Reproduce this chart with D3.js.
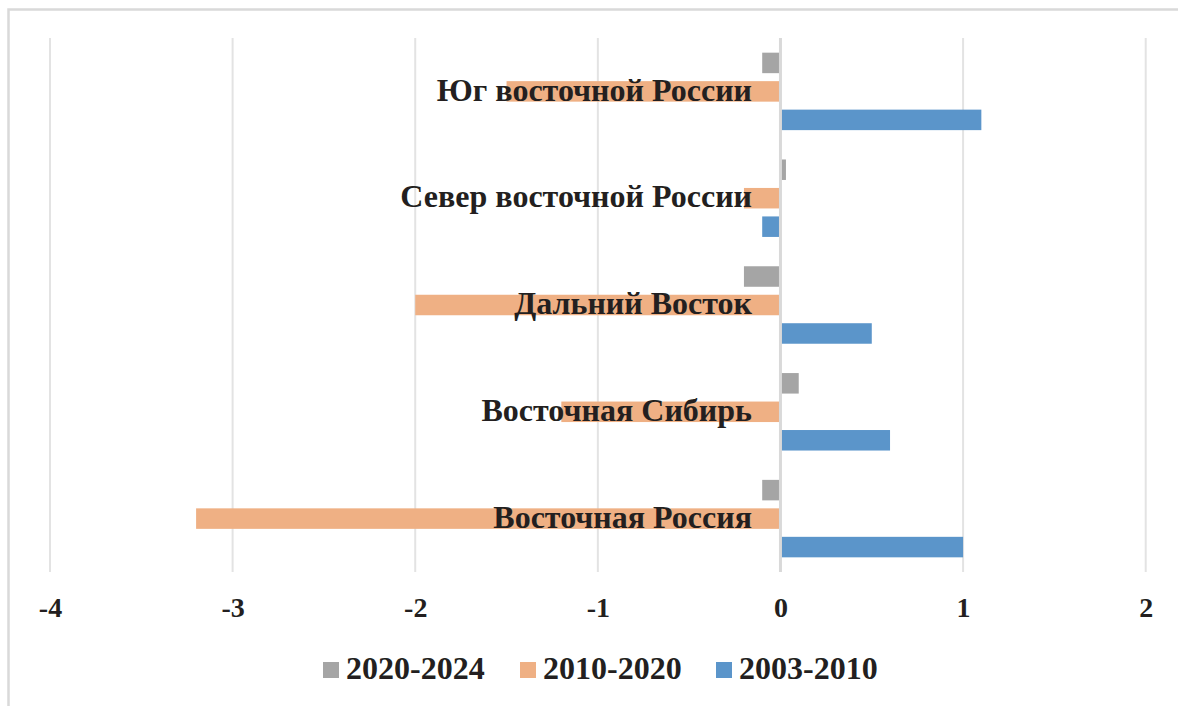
<!DOCTYPE html>
<html><head><meta charset="utf-8">
<script src="https://cdn.jsdelivr.net/npm/d3@7"></script>
<style>body{margin:0;background:#fff}svg{display:block}text{font-family:"Liberation Serif","Times New Roman",serif;font-weight:bold;fill:#231f20}</style>
</head><body><svg id="c" width="1178" height="706"></svg>
<script>
const categories = ["Юг восточной России","Север восточной России","Дальний Восток","Восточная Сибирь","Восточная Россия"];
const seriesNames = ["2020-2024","2010-2020","2003-2010"];
const v2020_2024 = [-0.1, 0.03, -0.2, 0.1, -0.1];
const v2010_2020 = [-1.5, -0.2, -2.0, -1.2, -3.2];
const v2003_2010 = [1.1, -0.1, 0.5, 0.6, 1.0];
const tickValues = [-4,-3,-2,-1,0,1,2];
const colors = ["#a5a5a5","#efb084","#5b95ca"];
const seriesValues = [v2020_2024, v2010_2020, v2003_2010];

const svg = d3.select("#c");
svg.append("rect").attr("x",8.5).attr("y",9.5).attr("width",1300).attr("height",900)
  .attr("fill","none").attr("stroke","#d9d9d9").attr("stroke-width",2.5);

const x = d3.scaleLinear().domain([-4,2]).range([50,1145.7]);
const y = d3.scaleBand().domain(categories).range([38,572]).paddingInner(0.2).paddingOuter(0.1);
const yi = d3.scaleBand().domain(seriesNames).range([0,y.bandwidth()]).paddingInner(0.28).paddingOuter(0.14);

// gridlines
svg.append("g").selectAll("line").data(tickValues.filter(t=>t!==0)).join("line")
  .attr("x1",d=>x(d)).attr("x2",d=>x(d)).attr("y1",38).attr("y2",572)
  .attr("stroke","#e3e3e3").attr("stroke-width",2);

// bars
const g = svg.append("g");
seriesNames.forEach((s,si)=>{
  g.selectAll(null).data(categories.map((c,i)=>({c,v:seriesValues[si][i]}))).join("rect")
    .attr("x",d=>x(Math.min(0,d.v))).attr("width",d=>Math.abs(x(d.v)-x(0)))
    .attr("y",d=>y(d.c)+yi(s)).attr("height",yi.bandwidth())
    .attr("fill",colors[si]);
});

// zero axis
svg.append("line").attr("x1",x(0)).attr("x2",x(0)).attr("y1",38).attr("y2",572)
  .attr("stroke","#d9d9d9").attr("stroke-width",3);

// category labels
svg.append("g").selectAll("text").data(categories).join("text")
  .attr("x",752).attr("y",d=>y(d)+yi(seriesNames[1])+yi.bandwidth()-1)
  .attr("text-anchor","end").style("font-size","32px").text(d=>d);

// x axis tick labels
const ax = d3.axisBottom(x).tickValues(tickValues).tickSize(0).tickPadding(0).tickFormat(d=>String(d));
const axg = svg.append("g").attr("transform","translate(0,597)").call(ax);
axg.select(".domain").remove();
axg.selectAll("text").attr("dy","0.71em").style("font-size","28px").attr("fill","#231f20");

// legend
const lx = [323,520,716];
const lg = svg.append("g").selectAll("g").data(seriesNames).join("g")
  .attr("transform",(d,i)=>`translate(${lx[i]},662)`);
lg.append("rect").attr("width",16).attr("height",16).attr("fill",(d,i)=>colors[i]);
lg.append("text").attr("x",23).attr("y",17).style("font-size","32px").text(d=>d);
</script></body></html>
